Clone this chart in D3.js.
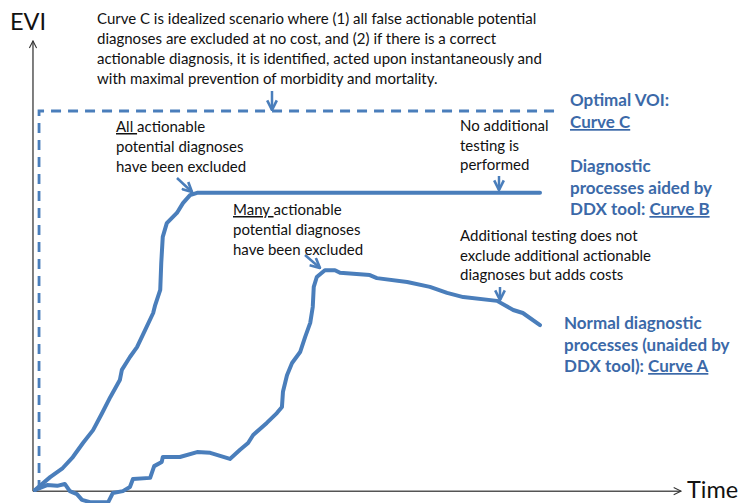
<!DOCTYPE html>
<html>
<head>
<meta charset="utf-8">
<script src="https://cdn.jsdelivr.net/npm/d3@7"></script>
<style>
  body { margin: 0; background: #fff; }
  text { font-family: Lato, "Open Sans", sans-serif; }
  .note { font-size: 15px; fill: #111; }
  .blue { font-size: 17px; font-weight: bold; fill: #3b69a8; }
  .axisLabel { font-size: 23.5px; fill: #111; }
</style>
</head>
<body>
<div id="chart"></div>
<script>
var svgWidth = 741;
var svgHeight = 503;

// time (0-100) vs EVI (0-100)
var curveA_t = [0, 2.4, 4.4, 5.9, 6.9, 8.3, 9.3, 10.9, 14.5, 15.4, 17.4, 18.8, 19.4, 22.8, 23.6, 25.1, 25.3, 28.7,
  32.1, 34.7, 38.6, 40.6, 42.2, 43.2, 45.9, 47.9, 48.9, 49.1, 49.9, 50.9, 52.5, 53.5, 54.5, 55.0, 55.2, 55.8,
  57.4, 59.4, 60.4, 66.3, 67.7, 73.7, 78.2, 81.6, 84.8, 91.5, 94.7, 96.6, 100];
var curveA_evi = [0, 1.3, 1.1, 1.6, -0.3, -1.1, -2.6, -3.2, -3.2, -0.8, -0.3, 0.8, 2.9, 3.2, 6.3, 7.4, 8.7, 8.7,
  10.0, 9.8, 8.2, 10.6, 12.4, 14.5, 17.7, 20.3, 21.9, 25.9, 30.3, 33.5, 36.4, 40.4, 44.1, 48.3, 53.6, 56.2,
  58.0, 58.0, 57.3, 56.7, 55.9, 54.9, 53.6, 52.0, 50.9, 49.9, 47.5, 46.7, 43.5];

var curveB_t = [0, 3.0, 5.5, 7.5, 9.5, 11.5, 13.3, 14.9, 16.8, 17.2, 18.8, 20.2, 21.8, 23.4, 23.8, 24.8, 25.0,
  25.3, 26.1, 28.1, 29.3, 30.7, 32.1, 100];
var curveB_evi = [0, 3.4, 5.8, 8.7, 12.4, 15.8, 20.3, 24.5, 29.0, 31.7, 35.1, 37.7, 42.2, 46.7, 48.8, 52.8, 59.9,
  66.8, 70.4, 73.1, 75.7, 77.8, 78.4, 78.4];

var curveC_t = [0.8, 0.8, 103];
var curveC_evi = [0, 100, 100];

var topNote = [
  "Curve C is idealized scenario where (1) all false actionable potential",
  "diagnoses are excluded at no cost, and (2) if there is a  correct",
  "actionable diagnosis, it is identified, acted upon instantaneously and",
  "with maximal prevention of morbidity and mortality."
];

var svg = d3.select("#chart")
  .append("svg")
  .attr("width", svgWidth)
  .attr("height", svgHeight);

var x = d3.scaleLinear().domain([0, 100]).range([35, 540]);
var y = d3.scaleLinear().domain([0, 100]).range([490, 111]);

var blue = "#4a7ebb";

// arrow heads
var defs = svg.append("defs");
defs.append("marker")
  .attr("id", "axisHead")
  .attr("viewBox", "0 0 10 10")
  .attr("refX", 9).attr("refY", 5)
  .attr("markerWidth", 9).attr("markerHeight", 9)
  .attr("markerUnits", "userSpaceOnUse")
  .attr("orient", "auto")
  .append("path")
  .attr("d", "M1,1 L9,5 L1,9")
  .attr("fill", "none")
  .attr("stroke", "#333")
  .attr("stroke-width", 1.2);

defs.append("marker")
  .attr("id", "blueHead")
  .attr("viewBox", "0 0 10 10")
  .attr("refX", 9).attr("refY", 5)
  .attr("markerWidth", 12).attr("markerHeight", 12)
  .attr("markerUnits", "userSpaceOnUse")
  .attr("orient", "auto")
  .append("path")
  .attr("d", "M1,1 L9,5 L1,9")
  .attr("fill", "none")
  .attr("stroke", blue)
  .attr("stroke-width", 2.2);

// axes
svg.append("line")
  .attr("x1", x(-0.4)).attr("y1", y(-0.3))
  .attr("x2", x(127.9)).attr("y2", y(-0.3))
  .attr("stroke", "#555").attr("stroke-width", 1.5)
  .attr("marker-end", "url(#axisHead)");

svg.append("line")
  .attr("x1", x(-0.4)).attr("y1", y(-0.3))
  .attr("x2", x(-0.4)).attr("y2", y(118.5))
  .attr("stroke", "#555").attr("stroke-width", 1.5)
  .attr("marker-end", "url(#axisHead)");

svg.append("text").attr("class", "axisLabel").attr("x", 10).attr("y", 30).text("EVI");
svg.append("text").attr("class", "axisLabel").attr("x", 687).attr("y", 498).text("Time");

// curves
var line = d3.line()
  .x(d => x(d[0]))
  .y(d => y(d[1]));

svg.append("path")
  .datum(d3.zip(curveC_t, curveC_evi))
  .attr("d", line)
  .attr("fill", "none")
  .attr("stroke", blue)
  .attr("stroke-width", 2.8)
  .attr("stroke-dasharray", "10,7");

svg.append("path")
  .datum(d3.zip(curveB_t, curveB_evi))
  .attr("d", line)
  .attr("fill", "none")
  .attr("stroke", blue)
  .attr("stroke-width", 4)
  .attr("stroke-linejoin", "round")
  .attr("stroke-linecap", "round");

svg.append("path")
  .datum(d3.zip(curveA_t, curveA_evi))
  .attr("d", line)
  .attr("fill", "none")
  .attr("stroke", blue)
  .attr("stroke-width", 4)
  .attr("stroke-linejoin", "round")
  .attr("stroke-linecap", "round");

// annotation arrows
var arrows = [
  [272, 91, 272, 110],
  [177, 178, 192, 192],
  [305, 255, 320, 268],
  [499, 176, 499, 190],
  [500, 287, 500, 300]
];
svg.selectAll(".arrow")
  .data(arrows)
  .enter()
  .append("line")
  .attr("class", "arrow")
  .attr("x1", d => d[0]).attr("y1", d => d[1])
  .attr("x2", d => d[2]).attr("y2", d => d[3])
  .attr("stroke", blue)
  .attr("stroke-width", 2.5)
  .attr("marker-end", "url(#blueHead)");

// text blocks, parts flagged true get underlined
function note(lines, px, py, dy, cls) {
  var t = svg.append("text").attr("class", cls);
  lines.forEach(function(l, i) {
    var ts = t.append("tspan").attr("x", px).attr("y", py + i * dy);
    l.forEach(function(part) {
      var s = ts.append("tspan").text(part[0]);
      if (part[1]) s.style("text-decoration", "underline");
    });
  });
  return t;
}

note(topNote.map(l => [[l]]), 97, 24, 20, "note");
note([[["All ", true], ["actionable"]], [["potential diagnoses"]], [["have been excluded"]]], 116, 132, 20, "note");
note([[["Many ", true], ["actionable"]], [["potential diagnoses"]], [["have been excluded"]]], 233, 215, 20, "note");
note([[["No additional"]], [["testing is"]], [["performed"]]], 460, 131, 19.5, "note");
note([[["Additional testing does not"]], [["exclude additional actionable"]], [["diagnoses but adds costs"]]], 460, 241, 19.5, "note");

// blue legend labels
note([[["Optimal VOI:"]], [["Curve C", true]]], 570, 106, 22, "blue");
note([[["Diagnostic"]], [["processes aided by"]], [["DDX tool: "], ["Curve B", true]]], 570, 172, 21.5, "blue");
note([[["Normal diagnostic"]], [["processes (unaided by"]], [["DDX tool): "], ["Curve A", true]]], 564, 329, 21.5, "blue");
</script>
</body>
</html>
